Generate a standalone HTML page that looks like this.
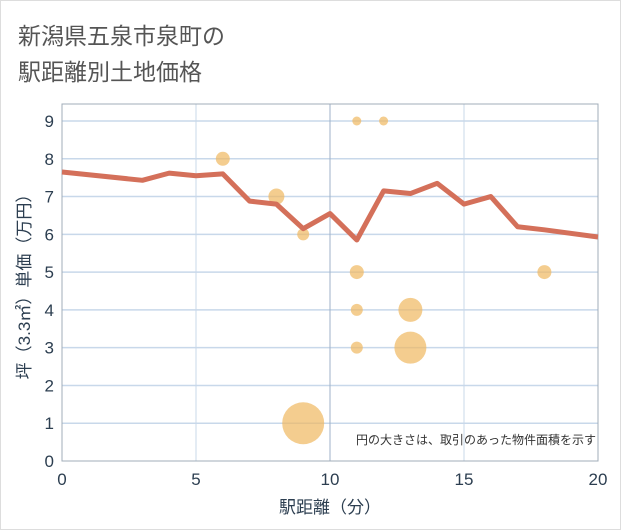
<!DOCTYPE html>
<html><head><meta charset="utf-8"><style>
body{margin:0;background:#fff;}
#c{position:relative;width:621px;height:530px;border:1px solid #ddd;box-sizing:border-box;font-family:"Liberation Sans","Noto Sans CJK JP",sans-serif;}
.t{position:absolute;left:17px;font-size:23px;color:#555;}
</style></head><body>
<div id="c">
<div class="t" style="top:16px">新潟県五泉市泉町の</div>
<div class="t" style="top:52px">駅距離別土地価格</div>
<svg id="s" width="621" height="530" style="position:absolute;left:0;top:0"></svg>
</div>
<script>
const lineX=[0,3,4,5,6,7,8,9,10,11,12,13,14,15,16,17,18,20];
const lineY=[7.65,7.43,7.62,7.55,7.6,6.88,6.8,6.15,6.55,5.85,7.15,7.08,7.35,6.8,7.0,6.2,6.12,5.93];
const bubX=[6,8,9,11,12,11,11,11,13,13,9,18];
const bubY=[8,7,6,9,9,5,4,3,4,3,1,5];
const bubR=[7,8,6,4.5,4.5,7,6,6,12,16,21,7];
const xTicks=[0,5,10,15,20];
const yTicks=[0,1,2,3,4,5,6,7,8,9];
const L=61,R=597,T=103,B=460;
const sx=v=>L+(v-0)/20*(R-L);
const sy=v=>B-v/9.45*(B-T);
const s=document.getElementById('s');
const NS='http://www.w3.org/2000/svg';
function mk(t,a,p){const e=document.createElementNS(NS,t);for(const k in a)e.setAttribute(k,a[k]);(p||s).appendChild(e);return e;}
yTicks.forEach(v=>{if(v>0){const g=mk('line',{x1:L,x2:R,y1:sy(v),y2:sy(v),stroke:'#c8d8ea','stroke-width':1.5});

}
const t=mk('text',{x:L-8,y:sy(v)+6,'text-anchor':'end','font-size':17,fill:'#2c3e50'});t.textContent=v;

});
xTicks.forEach(v=>{if(v>0&&v<20){const g=mk('line',{x1:sx(v),x2:sx(v),y1:T,y2:B,stroke:v==10?'#9fb2c8':'#c8d8ea','stroke-width':1});

}
const t=mk('text',{x:sx(v),y:B+24,'text-anchor':'middle','font-size':17,fill:'#2c3e50'});t.textContent=v;

});
const fr=mk('rect',{x:L,y:T,width:R-L,height:B-T,fill:'none',stroke:'#a0acb8'});


bubX.forEach((x,i)=>{const c=mk('circle',{cx:sx(x),cy:sy(bubY[i]),r:bubR[i],fill:'#f0b860','fill-opacity':0.7});

});
const pl=mk('polyline',{points:lineX.map((x,i)=>sx(x)+','+sy(lineY[i])).join(' '),fill:'none',stroke:'#d4705a','stroke-width':5,'stroke-linejoin':'round'});


const n=mk('text',{x:595,y:443,'text-anchor':'end','font-size':12,fill:'#333'});n.textContent='円の大きさは、取引のあった物件面積を示す';


const xt=mk('text',{x:sx(10),y:512,'text-anchor':'middle','font-size':17,fill:'#2c3e50'});xt.textContent='駅距離（分）';


const yt=mk('text',{x:0,y:0,'text-anchor':'middle','font-size':17,fill:'#2c3e50',transform:'translate(29,'+((T+B)/2)+') rotate(-90)'});yt.textContent='坪（3.3㎡）単価（万円）';


</script>
</body></html>
